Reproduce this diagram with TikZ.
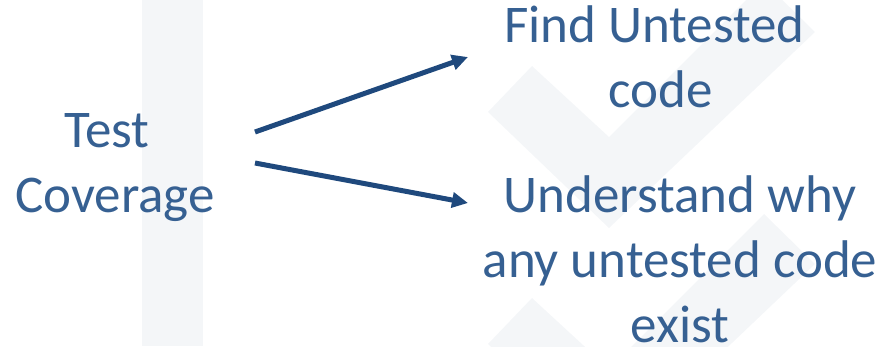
\documentclass[tikz,border=0pt]{standalone}
\usepackage{fontspec}
\setmainfont{Carlito}
\usetikzlibrary{arrows.meta}
\definecolor{wm}{RGB}{244,246,248}
\definecolor{txt}{RGB}{54,96,146}
\definecolor{arr}{RGB}{31,73,125}
\tikzset{
  lbl/.style={text=txt, align=center, inner sep=0pt, anchor=base, font=\fontsize{53}{65}\selectfont},
  conn/.style={draw=arr, line width=5pt, -{Triangle[length=16pt,width=15pt]}}
}
\begin{document}
\begin{tikzpicture}[x=1pt,y=-1pt]
\useasboundingbox (0,0) rectangle (895,346);
% watermark
\fill[wm] (142,0) rectangle (203,346);
\fill[wm] (532,66) -- (488,112) -- (609,228) -- (815,32) -- (764,-18) -- (609,137) -- cycle;
\begin{scope}[yshift=-232pt]
\fill[wm] (532,66) -- (488,112) -- (609,228) -- (815,32) -- (764,-18) -- (609,137) -- cycle;
\end{scope}
% texts (anchor base = baseline of the last line)
\node[lbl] (tc) at (115,212) {Test\hspace*{16pt}\\Coverage};
\node[lbl] (fu) at (661,107) {Find Untested\hspace*{13pt}\\code};
\node[lbl] (uw) at (680,342) {Understand why\\any untested code\\exist};
% connectors
\coordinate (s1) at (255,132);
\coordinate (e1) at (468,57);
\coordinate (s2) at (255,163);
\coordinate (e2) at (468,203);
\draw[conn] (s1) -- (e1);
\draw[conn] (s2) -- (e2);
\end{tikzpicture}
\end{document}
